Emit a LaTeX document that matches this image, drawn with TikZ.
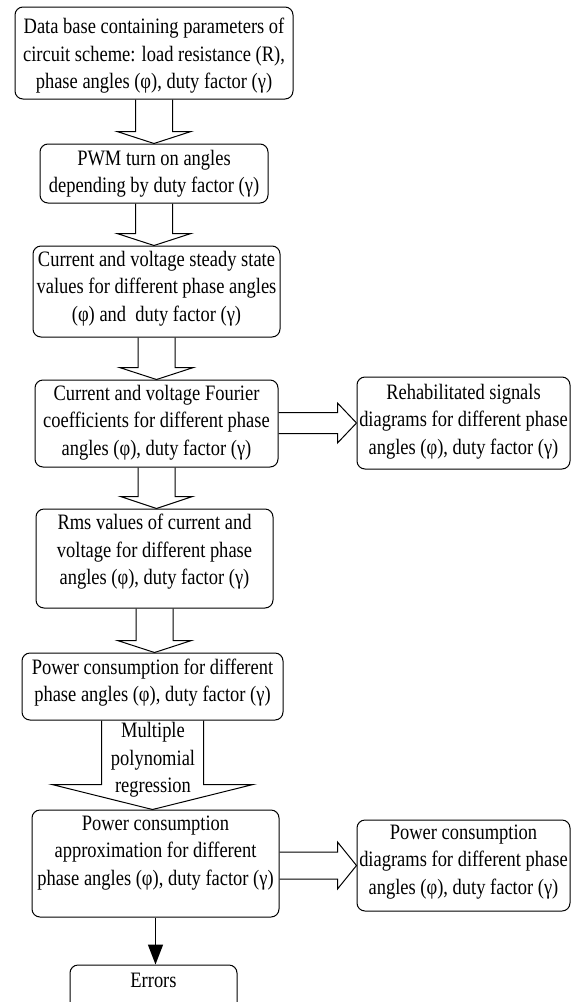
\documentclass[tikz,border=0pt]{standalone}
\usepackage{fontspec}
\setmainfont[FakeStretch=0.84]{Liberation Serif}
\usetikzlibrary{fit,calc,arrows.meta}
\newcommand\downblock[5]{%
  \draw[blockarrow] let \p1=(#1.south), \p2=(#2.north) in
    (\x1-#3,\y1) -- (\x1-#3,\y2+#5) -- (\x1-#4,\y2+#5) -- (\x1,\y2)
    -- (\x1+#4,\y2+#5) -- (\x1+#3,\y2+#5) -- (\x1+#3,\y1);}
\newcommand\rightblock[5]{%
  \draw[blockarrow] let \p1=(#1.east), \p2=(#2.west) in
    (\x1,\y2+#3) -- (\x2-#5,\y2+#3) -- (\x2-#5,\y2+#4) -- (\x2,\y2)
    -- (\x2-#5,\y2-#4) -- (\x2-#5,\y2-#3) -- (\x1,\y2-#3);}
\begin{document}
\begin{tikzpicture}[x=1pt,y=-1pt,
  box/.style={draw, rounded corners=8pt, inner sep=0pt, line width=1pt},
  txt/.style={align=center, inner sep=0pt, font=\fontsize{22}{27.5}\selectfont},
  blockarrow/.style={draw, line width=1pt, line join=miter}]
\useasboundingbox (0,0) rectangle (571,1002);
\clip (0,0) rectangle (571,1002);

% boxes
\node[box, fit={(15,7) (293,99)}] (b1) {};
\node[box, fit={(40,144) (268,203)}] (b2) {};
\node[box, fit={(33,246) (280,337)}] (b3) {};
\node[box, fit={(35,380) (278,467)}] (b4) {};
\node[box, fit={(357,377) (570,469)}] (b5) {};
\node[box, fit={(36,509) (273,608)}] (b6) {};
\node[box, fit={(22,653) (283,720)}] (b7) {};
\node[box, fit={(32,810) (279,917)}] (b8) {};
\node[box, fit={(357,820) (570,911)}] (b9) {};
\node[box, fit={(70,965) (237,1030)}] (b10) {};

% texts
\node[txt] (t1) at (b1.center |- 0,56) {Data base containing parameters of\\circuit scheme: load resistance (R),\\phase angles (φ), duty factor (γ)};
\node[txt] (t2) at (b2.center |- 0,173.5) {PWM turn on angles\\depending by duty factor (γ)};
\node[txt] (t3) at (b3.center |- 0,288.5) {Current and voltage steady state\\values for different phase angles\\(φ) and\ \ duty factor (γ)};
\node[txt] (t4) at (b4.center |- 0,422.5) {Current and voltage Fourier\\coefficients for different phase\\angles (φ), duty factor (γ)};
\node[txt] (t5) at (b5.center |- 0,421.5) {Rehabilitated signals\\diagrams for different phase\\angles (φ), duty factor (γ)};
\node[txt] (t6) at (b6.center |- 0,552) {Rms values of current and\\voltage for different phase\\angles (φ), duty factor (γ)};
\node[txt] (t7) at (b7.center |- 0,682.5) {Power consumption for different\\phase angles (φ), duty factor (γ)};
\node[txt] (t9) at (b8.center |- 0,853) {Power consumption\\approximation for different\\phase angles (φ), duty factor (γ)};
\node[txt] (t10) at (b9.center |- 0,862) {Power consumption\\diagrams for different phase\\angles (φ), duty factor (γ)};
\node[txt] (t11) at (b10.center |- 0,980) {Errors};

% block arrows
\downblock{b1}{b2}{18.5pt}{37pt}{12pt}
\downblock{b2}{b3}{18.5pt}{37pt}{12pt}
\downblock{b3}{b4}{18.5pt}{37pt}{12pt}
\downblock{b4}{b6}{18.5pt}{36pt}{12pt}
\downblock{b6}{b7}{18.5pt}{37pt}{12pt}
\downblock{b7}{b8}{51pt}{100.5pt}{25pt}
\rightblock{b4}{b5}{10.5pt}{20pt}{19pt}
\rightblock{b8}{b9}{13.5pt}{23.5pt}{19pt}
\node[txt] (t8) at (153,760) {Multiple\\polynomial\\regression};

% plain arrow
\draw[line width=1.6pt, -{Triangle[length=20pt,width=15pt]}] (b8.south) -- (b8.south |- b10.north);
\end{tikzpicture}
\end{document}
